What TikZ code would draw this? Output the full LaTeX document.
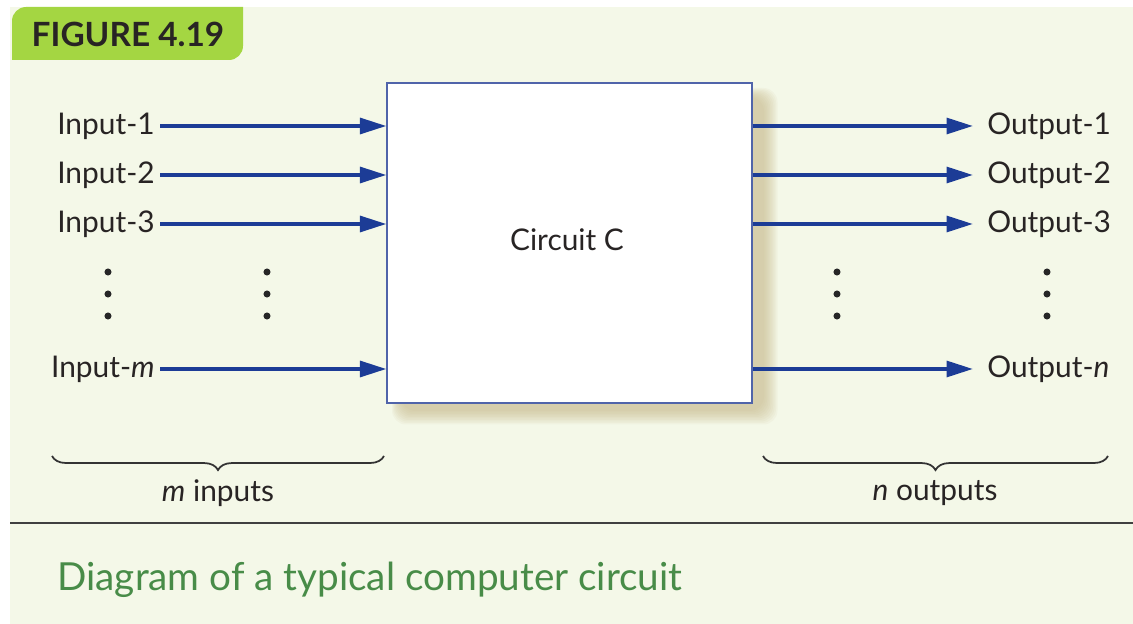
\documentclass[tikz,border=0pt]{standalone}
\usepackage{fontspec}
\setmainfont{Lato}
\usepackage{xcolor}
\usetikzlibrary{arrows.meta, positioning, calc, decorations.pathreplacing}
\definecolor{panelcream}{RGB}{244,248,232}
\definecolor{tabgreen}{RGB}{164,214,66}
\definecolor{wireblue}{RGB}{28,60,150}
\definecolor{boxblue}{RGB}{80,100,170}
\definecolor{captiongreen}{RGB}{72,140,72}
\definecolor{shadowtan}{RGB}{196,180,130}
\definecolor{textdark}{RGB}{40,36,36}

\begin{document}
\begin{tikzpicture}[x=0.02cm, y=-0.02cm,
    lbl/.style={font=\fontsize{17}{20}\selectfont, text=textdark, inner sep=0pt},
    wire/.style={-{Triangle[length=15pt, width=9pt]}, line width=2pt, wireblue},
    dot/.style={circle, fill=black!85, inner sep=0pt, minimum size=4pt},
    brc/.style={decorate, decoration={brace, mirror, amplitude=8pt}, line width=1pt, black!80}
]
\useasboundingbox (0,0) rectangle (1133,624);
\fill[white] (0,0) rectangle (1133,624);

% Panel and tab
\fill[panelcream] (10,7) rectangle (1133,624);
\fill[tabgreen] (12,60) [rounded corners=8pt] -- (12,7) [sharp corners] -- (243,7)
    [rounded corners=8pt] -- (243,60) [sharp corners] -- cycle;
\node[font=\bfseries\fontsize{19}{22}\selectfont, text=textdark] (title) at (128,34) {FIGURE 4.19};

% Circuit box with soft shadow
\coordinate (cnw) at (387,83);
\coordinate (cse) at (752,403);
\foreach \d in {0,...,9}
    \fill[shadowtan, opacity=0.08, rounded corners=8pt]
        ($(cnw)+(14-\d,14-\d)$) rectangle ($(cse)+(12+1.5*\d,8+1.5*\d)$);
\node[draw=boxblue, line width=0.8pt, fill=white, minimum width=7.3cm, minimum height=6.4cm,
    inner sep=0pt] (C) at (569.5,243) {};
\node[lbl] (clabel) at (567,240) {Circuit C};

% Inputs
\node[lbl, anchor=east] (in1) at (155,126) {Input-1};
\node[lbl, anchor=east] (in2) at (155,175) {Input-2};
\node[lbl, anchor=east] (in3) at (155,224) {Input-3};
\node[lbl, anchor=east] (inm) at (155,369) {Input-\textit{m}};
\foreach \n in {in1,in2,in3,inm}
    \draw[wire] ([xshift=3pt]\n.east) -- (\n.east -| C.west);

% Outputs
\node[lbl, anchor=west] (out1) at (987,126) {Output-1};
\node[lbl, anchor=west] (out2) at (987,175) {Output-2};
\node[lbl, anchor=west] (out3) at (987,224) {Output-3};
\node[lbl, anchor=west] (outn) at (987,369) {Output-\textit{n}};
\foreach \n in {out1,out2,out3,outn}
    \draw[wire] (\n.west -| C.east) -- ([xshift=-8pt]\n.west);

% Ellipsis dots
\foreach \x in {108,267,837,1047}
    \foreach \y in {272,294,316}
        \node[dot] (dot-\x-\y) at (\x,\y) {};

% Braces
\coordinate (bl1) at (52,456);
\coordinate (br1) at (384,456);
\coordinate (bl2) at (763,456);
\coordinate (br2) at (1108,456);
\draw[brc] (bl1) -- (br1);
\draw[brc] (bl2) -- (br2);
\node[lbl] (mlabel) at (218,493) {\textit{m} inputs};
\node[lbl] (nlabel) at (935,493) {\textit{n} outputs};

% Rule and caption
\draw[black!75, line width=1pt] (10,523) -- (1133,523);
\node[anchor=west, font=\fontsize{22}{26}\selectfont, text=captiongreen, inner sep=0pt] (caption)
    at (57,580) {Diagram of a typical computer circuit};

\end{tikzpicture}
\end{document}
